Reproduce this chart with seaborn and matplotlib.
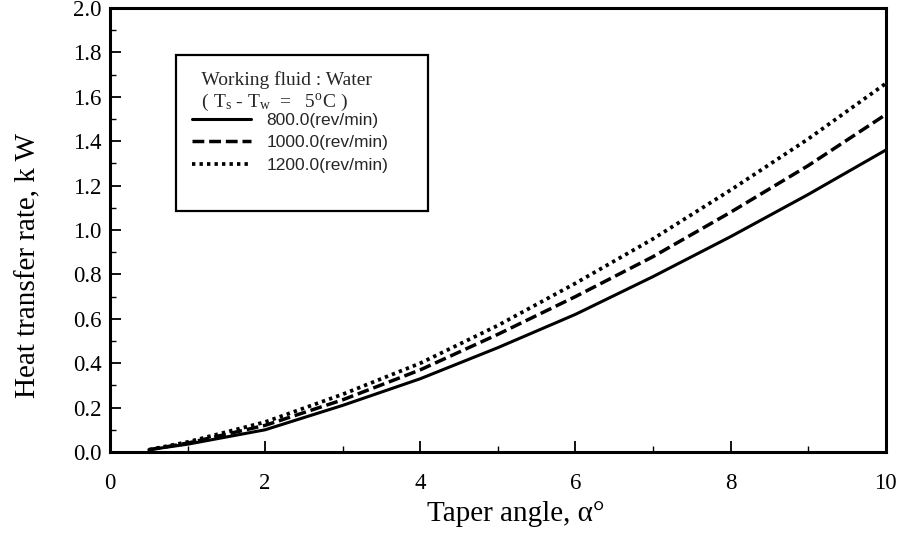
import matplotlib
matplotlib.use("Agg")
import matplotlib.pyplot as plt
import seaborn as sns
import pandas as pd
from matplotlib.ticker import MultipleLocator
from matplotlib.lines import Line2D

taper_angle = [0.5, 1, 2, 3, 4, 5, 6, 7, 8, 9, 10]
q_800 = [0.01, 0.035, 0.10, 0.21, 0.33, 0.47, 0.62, 0.79, 0.97, 1.16, 1.36]
q_1000 = [0.01, 0.04, 0.12, 0.235, 0.37, 0.53, 0.70, 0.88, 1.08, 1.29, 1.52]
q_1200 = [0.01, 0.045, 0.135, 0.26, 0.40, 0.57, 0.76, 0.96, 1.18, 1.41, 1.66]
series_labels = ["800.0(rev/min)", "1000.0(rev/min)", "1200.0(rev/min)"]

sns.set_theme(style="ticks")
plt.rcParams['font.family'] = ['Liberation Serif', 'DejaVu Serif']
plt.rcParams['mathtext.fontset'] = 'custom'
plt.rcParams['mathtext.rm'] = 'Liberation Serif'
plt.rcParams['mathtext.it'] = 'Liberation Serif:italic'

fig = plt.figure(figsize=(9.04, 5.4), dpi=100)
ax = fig.add_axes([0.1217, 0.163, 0.858, 0.822])

styles = [
    dict(linestyle='-', linewidth=2.2),
    dict(linestyle=(0, (3.4, 1.4)), linewidth=2.5),
    dict(linestyle=(0, (0.9, 1.1)), linewidth=2.7),
]
for vals, lab, st in zip([q_800, q_1000, q_1200], series_labels, styles):
    df = pd.DataFrame({"x": taper_angle, "y": vals})
    sns.lineplot(data=df, x="x", y="y", ax=ax, color="black", label=lab, **st)

ax.set_xlim(0, 10)
ax.set_ylim(0, 2.0)
ax.xaxis.set_minor_locator(MultipleLocator(1))
ax.yaxis.set_minor_locator(MultipleLocator(0.1))
ax.set_xticks([0, 2, 4, 6, 8, 10])
ax.set_xticklabels(["0", "2", "4", "6", "8", "10"])
ax.set_yticks([0.0, 0.2, 0.4, 0.6, 0.8, 1.0, 1.2, 1.4, 1.6, 1.8, 2.0])
ax.set_yticklabels(["0.0", "0.2", "0.4", "0.6", "0.8", "1.0", "1.2", "1.4", "1.6", "1.8", "2.0"])
ax.tick_params(which='major', direction='in', length=8, width=1.3, labelsize=16.5, colors='black', pad=6)
ax.tick_params(which='minor', direction='in', length=4, width=1.0, colors='black')
ax.tick_params(axis='x', which='major', pad=15)
for sp in ax.spines.values():
    sp.set_linewidth(2.2)
    sp.set_color('black')
    sp.set_visible(True)

ax.set_xlabel("Taper angle, α°", fontsize=21, color='black')
ax.set_ylabel("Heat transfer rate, k W", fontsize=21, color='black')
ax.xaxis.set_label_coords(0.523, -0.11)
ax.yaxis.set_label_coords(-0.088, 0.42)

handles, labels = ax.get_legend_handles_labels()
handles.append(Line2D([], [], color='none'))
labels.append(" " * 30)

leg = ax.legend(
    handles, labels,
    title="  Working fluid : Water\n  ( T$_{\\rm s}$ - T$_{\\rm w}$  =   5$^{\\rm o}$C )",
    loc='upper left', bbox_to_anchor=(0.085, 0.894), borderaxespad=0,
    frameon=True, fancybox=False, edgecolor='black', framealpha=1,
    handlelength=3.4, handletextpad=0.9, labelspacing=0.42,
    borderpad=0.9, prop={'family': ['Liberation Sans', 'DejaVu Sans'], 'size': 12.5},
    title_fontproperties={'family': ['Liberation Serif', 'DejaVu Serif'], 'size': 14},
    alignment='left',
)
leg.get_frame().set_linewidth(1.6)
leg._legend_box.sep = 0
leg._legend_box._children[1].align = 'baseline'

fig.savefig("out.png", dpi=100)
